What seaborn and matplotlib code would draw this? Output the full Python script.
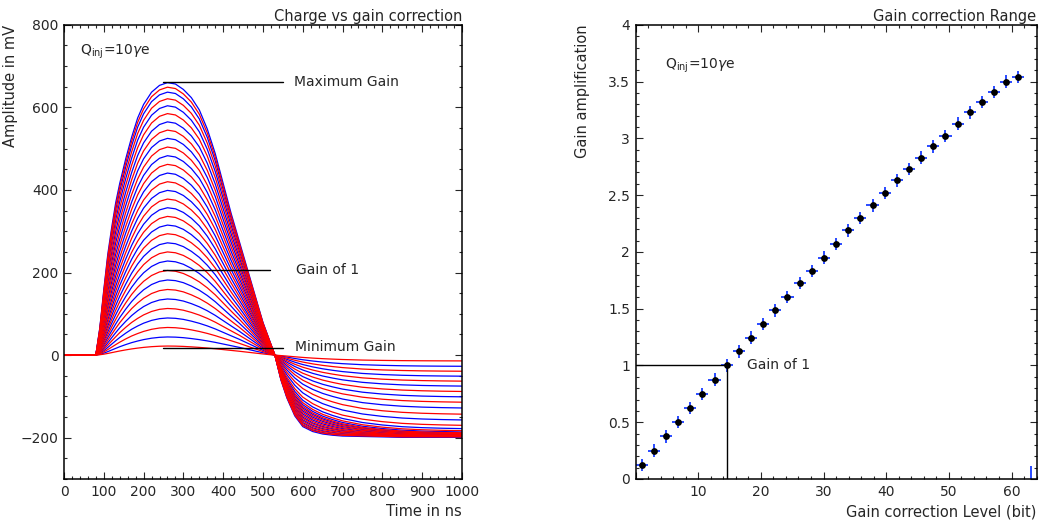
import numpy as np
import pandas as pd
import matplotlib.pyplot as plt
import seaborn as sns
from matplotlib.ticker import MultipleLocator, FuncFormatter

# --- left panel: pulse shapes ---
time_ns = [0, 60, 80, 90, 100, 110, 120, 130, 140, 155, 170, 185, 200, 220, 240,
           260, 280, 300, 320, 340, 360, 380, 400, 420, 440, 460, 480, 500, 515, 530,
           545, 560, 580, 600, 625, 650, 675, 700, 750, 800, 850, 900, 950, 1000]

# positive lobe, normalised to the peak (lowest gain curve / highest gain curve)
rise_low = [0, 0, 0, 0.04, 0.10, 0.18, 0.27, 0.36, 0.45, 0.57, 0.68, 0.77, 0.85, 0.93, 0.98,
            1.0, 0.99, 0.96, 0.91, 0.85, 0.78, 0.70, 0.61, 0.52, 0.43, 0.33, 0.23, 0.13, 0.06, 0,
            0, 0, 0, 0, 0, 0, 0, 0, 0, 0, 0, 0, 0, 0]
rise_high = [0, 0, 0, 0.10, 0.24, 0.37, 0.47, 0.56, 0.63, 0.72, 0.80, 0.87, 0.92, 0.965, 0.99,
             1.0, 0.995, 0.975, 0.945, 0.90, 0.83, 0.74, 0.63, 0.52, 0.42, 0.32, 0.22, 0.12, 0.06, 0,
             0, 0, 0, 0, 0, 0, 0, 0, 0, 0, 0, 0, 0, 0]
# undershoot, normalised to the value at 1000 ns
tail_low = [0] * 30 + [0.07, 0.15, 0.27, 0.38, 0.50, 0.60, 0.68, 0.75, 0.85, 0.91, 0.95, 0.975, 0.99, 1.0]
tail_high = [0] * 30 + [0.30, 0.52, 0.74, 0.87, 0.93, 0.96, 0.975, 0.985, 0.99, 0.995, 1.0, 1.0, 1.0, 1.0]

peak_mv = [22, 44, 67, 90, 113, 136, 159, 182, 205, 228, 250, 272, 294, 315, 336, 357,
           378, 399, 420, 441, 462, 483, 504, 525, 545, 565, 585, 604, 621, 637, 649, 660]
tail_mv = [-14, -27, -39, -51, -63, -75, -88, -101, -114, -128, -143, -157, -170, -178, -183, -186,
           -188, -189, -190, -191, -192, -193, -194, -195, -195, -196, -196, -197, -197, -198, -198, -199]

# --- right panel: gain per correction level ---
gain = [0.125, 0.25, 0.375, 0.5, 0.625, 0.75, 0.875, 1.0, 1.125, 1.245, 1.365, 1.485, 1.605,
        1.725, 1.83, 1.95, 2.07, 2.19, 2.30, 2.41, 2.52, 2.63, 2.73, 2.83, 2.93, 3.02, 3.13,
        3.23, 3.32, 3.41, 3.50, 3.54, 0.0]
gain_err = 0.055

# build long table of curves
rows = []
for k in range(len(peak_mv)):
    w = peak_mv[k] / peak_mv[-1]
    for i, t in enumerate(time_ns):
        pos = (1 - w) * rise_low[i] + w * rise_high[i]
        neg = (1 - w) * tail_low[i] + w * tail_high[i]
        rows.append((k, t, peak_mv[k] * pos + tail_mv[k] * neg))
pulses = pd.DataFrame(rows, columns=["curve", "time", "mv"])
pulses["color"] = np.where(pulses["curve"] % 2 == 0, "red", "blue")

edges = np.linspace(0, 64, len(gain) + 1)
levels = pd.DataFrame({"level": (edges[:-1] + edges[1:]) / 2, "gain": gain})

sns.set_style("ticks")
plt.rcParams["font.family"] = ["DejaVu Sans"]
plt.rcParams["font.size"] = 10

fig = plt.figure(figsize=(10.39, 5.22), dpi=100)
ax1 = fig.add_axes([0.0616, 0.0824, 0.383, 0.870])
ax2 = fig.add_axes([0.6117, 0.0824, 0.386, 0.870])

# left: blue curves first, red on top
for col in ["blue", "red"]:
    sns.lineplot(data=pulses[pulses["color"] == col], x="time", y="mv", units="curve",
                 estimator=None, color=col, lw=0.9, ax=ax1)

ax1.set_xlim(0, 1000)
ax1.set_ylim(-300, 800)
ax1.xaxis.set_major_locator(MultipleLocator(100))
ax1.xaxis.set_minor_locator(MultipleLocator(20))
ax1.yaxis.set_major_locator(MultipleLocator(200))
ax1.yaxis.set_minor_locator(MultipleLocator(50))
ax1.set_title("Charge vs gain correction", loc="right", fontsize=10.5, pad=3)
ax1.set_xlabel("Time in ns", loc="right", fontsize=10.5)
ax1.set_ylabel("Amplitude in mV", loc="top", fontsize=10.5)
ax1.yaxis.set_label_coords(-0.115, 1.0)

ax1.text(40, 735, r"Q$_{\rm inj}$=10$\gamma$e", fontsize=10, va="center")
ax1.plot([249, 550], [662, 662], color="black", lw=1)
ax1.text(578, 662, "Maximum Gain", fontsize=10, va="center")
ax1.plot([249, 518], [205, 205], color="black", lw=1)
ax1.text(583, 205, "Gain of 1", fontsize=10, va="center")
ax1.plot([249, 550], [17, 17], color="black", lw=1)
ax1.text(580, 20, "Minimum Gain", fontsize=10, va="center")

# right: gain vs level
blue_bar = "#2a4bff"
filled = levels[levels["gain"] > 0]
ax2.errorbar(filled["level"], filled["gain"], xerr=0.97, yerr=gain_err, fmt="none",
             ecolor=blue_bar, elinewidth=1.4, capsize=0)
empty = levels[levels["gain"] == 0]
ax2.errorbar(empty["level"], empty["gain"], yerr=gain_err * 2, fmt="none",
             ecolor=blue_bar, elinewidth=1.4, capsize=0)
sns.scatterplot(data=filled, x="level", y="gain", color="black", s=24, edgecolor="black",
                linewidth=0, ax=ax2, zorder=3)

g1 = levels["level"][7]
ax2.plot([0, g1], [1, 1], color="black", lw=1)
ax2.plot([g1, g1], [0, 1], color="black", lw=1)
ax2.text(17.8, 1.0, "Gain of 1", fontsize=10, va="center")
ax2.text(4.7, 3.64, r"Q$_{\rm inj}$=10$\gamma$e", fontsize=10, va="center")

ax2.set_xlim(0, 64)
ax2.set_ylim(0, 4)
ax2.xaxis.set_major_locator(MultipleLocator(10))
ax2.xaxis.set_minor_locator(MultipleLocator(2))
ax2.yaxis.set_major_locator(MultipleLocator(0.5))
ax2.yaxis.set_minor_locator(MultipleLocator(0.1))
ax2.yaxis.set_major_formatter(FuncFormatter(lambda v, p: f"{v:g}"))
ax2.xaxis.set_major_formatter(FuncFormatter(lambda v, p: "" if v == 0 else f"{v:g}"))
ax2.set_title("Gain correction Range", loc="right", fontsize=10.5, pad=3)
ax2.set_xlabel("Gain correction Level (bit)", loc="right", fontsize=10.5)
ax2.set_ylabel("Gain amplification", loc="top", fontsize=10.5)
ax2.yaxis.set_label_coords(-0.114, 1.0)

for ax in (ax1, ax2):
    for s in ax.spines.values():
        s.set_visible(True)
        s.set_linewidth(1.1)
        s.set_color("black")
    ax.tick_params(which="both", direction="in", top=True, right=True, labelsize=10, pad=4)
    ax.tick_params(which="major", length=5, width=0.8)
    ax.tick_params(which="minor", length=2.5, width=0.8)

fig.savefig("out.png", dpi=100)
